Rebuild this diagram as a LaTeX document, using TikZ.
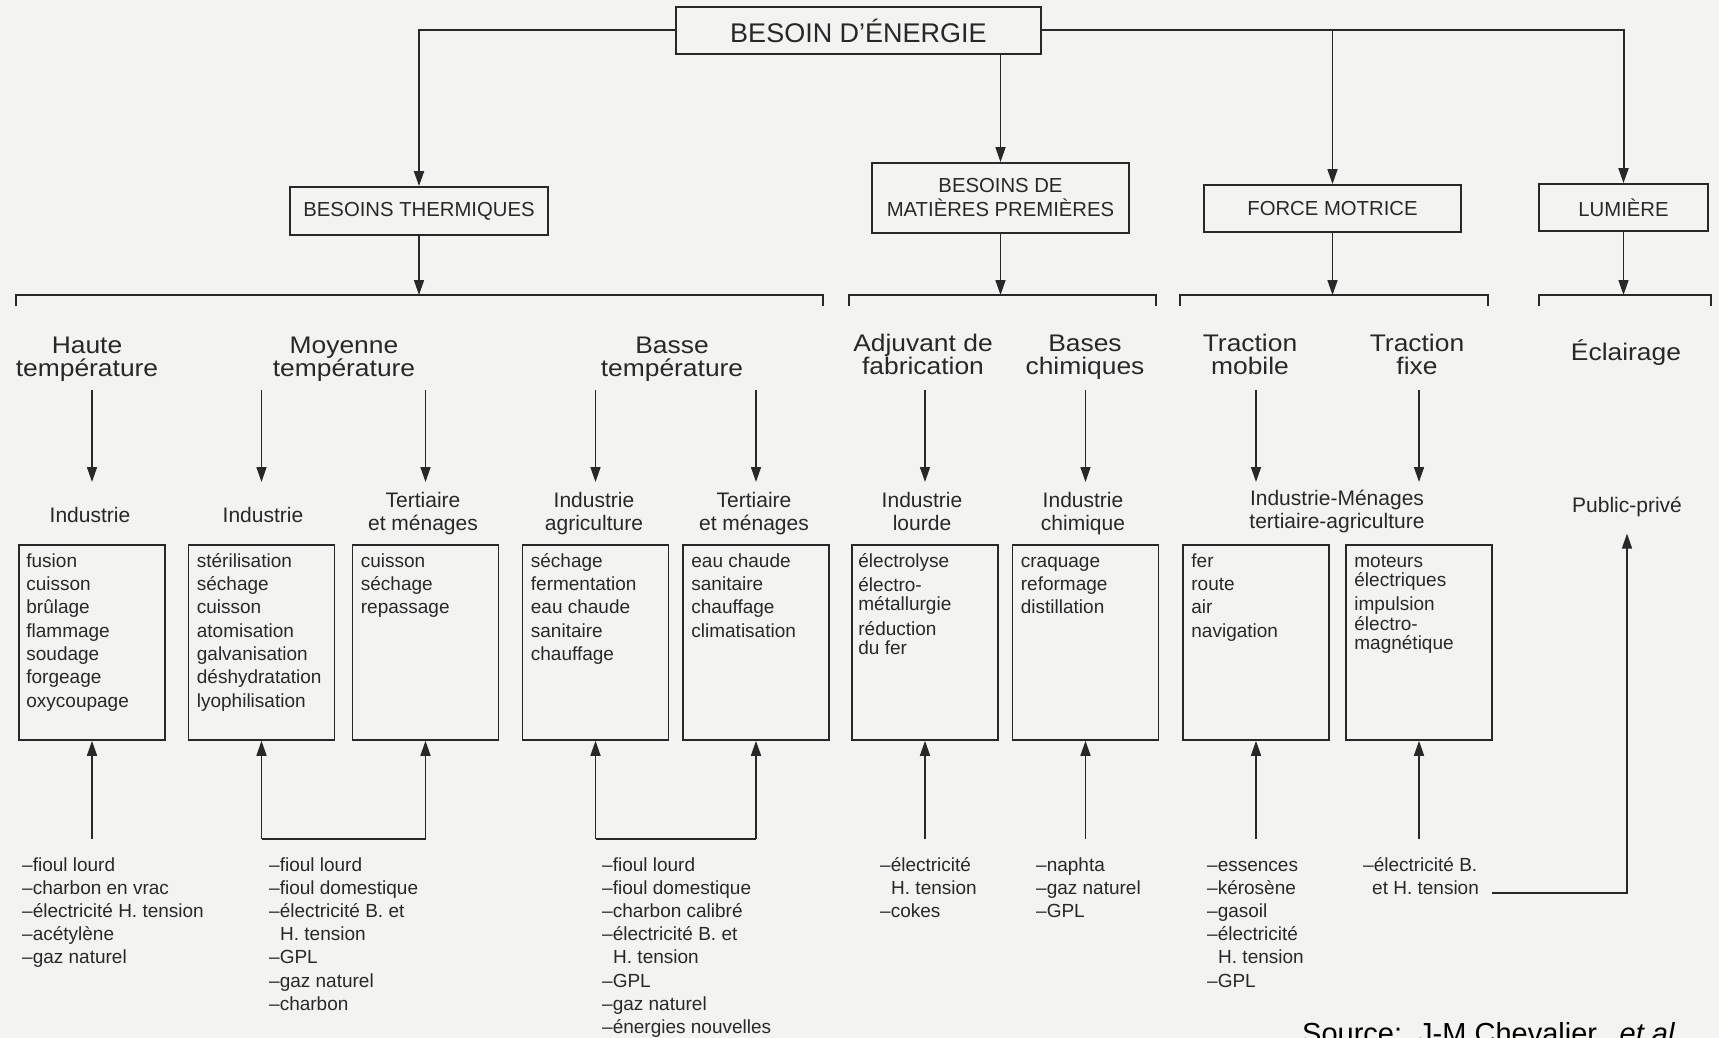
\documentclass[tikz,border=0pt]{standalone}
\usepackage{fontspec}
\setmainfont{Liberation Sans}
\newfontfamily\catfont{Liberation Sans}[FakeStretch=1.1]
\usetikzlibrary{arrows.meta}
\definecolor{ink}{RGB}{40,40,40}
\definecolor{paper}{RGB}{243,243,241}
\newcommand{\Lt}[1]{\begin{tabular}[t]{@{}l@{}}#1\end{tabular}}
\newcommand{\Ct}[1]{\begin{tabular}[t]{@{}c@{}}#1\end{tabular}}
\newcommand{\ind}{\hspace*{11pt}}
\tikzset{
  ln/.style={line width=1.6pt, draw=ink},
  arr/.style={ln, -{Triangle[length=15pt,width=10pt]}},
  topbox/.style={draw=ink, line width=1.8pt, rectangle, inner sep=0pt, text=ink,
    font=\fontsize{27}{30}\selectfont},
  catbox/.style={draw=ink, line width=1.8pt, rectangle, inner sep=0pt, align=center, text=ink,
    font=\fontsize{20.3}{24}\selectfont},
  catlab/.style={anchor=base, inner sep=0pt, text=ink,
    font=\catfont\fontsize{24}{21}\selectfont},
  sublab/.style={anchor=base, inner sep=0pt, text=ink,
    font=\fontsize{21}{23}\selectfont},
  databox/.style={draw=ink, line width=1.6pt, rectangle, minimum width=146pt, minimum height=195pt, inner sep=0pt},
  boxtext/.style={anchor=base west, inner sep=0pt, text=ink,
    font=\fontsize{19}{23.3}\selectfont},
  tightbox/.style={boxtext, font=\fontsize{19}{18}\selectfont},
  srclist/.style={anchor=base west, inner sep=0pt, text=ink,
    font=\fontsize{19}{23.2}\selectfont},
}
\begin{document}
\begin{tikzpicture}[x=1pt,y=-1pt]
\useasboundingbox (0,0) rectangle (1719,1038);
\fill[paper] (0,0) rectangle (1719,1038);

% row coordinates
\coordinate (rA) at (0,390);
\coordinate (rB) at (0,482);
\coordinate (rC) at (0,839);
\coordinate (k) at (0,295);

% top level
\node[topbox, minimum width=365pt, minimum height=47pt] (root) at (858.5,30.5) {BESOIN D’ÉNERGIE};
\node[catbox, minimum width=258pt, minimum height=48pt] (th) at (419,211) {BESOINS THERMIQUES};
\node[catbox, minimum width=257pt, minimum height=70pt] (mp) at (1000.5,198) {BESOINS DE\\MATIÈRES PREMIÈRES};
\node[catbox, minimum width=257pt, minimum height=47pt] (fm) at (1332.5,208.5) {FORCE MOTRICE};
\node[catbox, minimum width=169pt, minimum height=47pt] (lum) at (1623.5,207.5) {LUMIÈRE};

\draw[arr, line width=2pt] (root.west) -| (th.north);
\draw[arr, line width=2pt] (root.east) -| (lum.north);
\draw[arr] (root.east -| fm.north) -- (fm.north);
\draw[arr] (root.south -| mp.north) -- (mp.north);

% brackets
\draw[ln] (16,306) |- (823,295) -- (823,306);
\draw[ln] (849,306) |- (1156,295) -- (1156,306);
\draw[ln] (1180,306) |- (1488,295) -- (1488,306);
\draw[ln] (1539,306) |- (1711,295) -- (1711,306);
\draw[arr] (th.south) -- (th.south |- k);
\draw[arr] (mp.south) -- (mp.south |- k);
\draw[arr] (fm.south) -- (fm.south |- k);
\draw[arr] (lum.south) -- (lum.south |- k);

% category labels
\node[catlab] (c1) at (87,353) {\Ct{Haute\\température}};
\node[catlab] (c2) at (344,353) {\Ct{Moyenne\\température}};
\node[catlab] (c3) at (672,353) {\Ct{Basse\\température}};
\node[catlab] (c4) at (923,351) {\Ct{Adjuvant de\\fabrication}};
\node[catlab] (c5) at (1085,351) {\Ct{Bases\\chimiques}};
\node[catlab] (c6) at (1250,351) {\Ct{Traction\\mobile}};
\node[catlab] (c7) at (1417,351) {\Ct{Traction\\fixe}};
\node[catlab] (c8) at (1626,360) {Éclairage};

% sub labels
\node[sublab] (d1) at (90,522) {Industrie};
\node[sublab] (d2) at (263,522) {Industrie};
\node[sublab] (d3) at (423,507) {\Ct{Tertiaire\\et ménages}};
\node[sublab] (d4) at (594,507) {\Ct{Industrie\\agriculture}};
\node[sublab] (d5) at (754,507) {\Ct{Tertiaire\\et ménages}};
\node[sublab] (d6) at (922,507) {\Ct{Industrie\\lourde}};
\node[sublab] (d7) at (1083,507) {\Ct{Industrie\\chimique}};
\node[sublab] (d8) at (1337,505) {\Ct{Industrie-Ménages\\tertiaire-agriculture}};
\node[sublab] (d9) at (1627,512) {Public-privé};

% boxes
\node[databox] (b1) at (92,642.5) {};
\node[databox] (b2) at (261.5,642.5) {};
\node[databox] (b3) at (425.5,642.5) {};
\node[databox] (b4) at (595.5,642.5) {};
\node[databox] (b5) at (756,642.5) {};
\node[databox] (b6) at (925,642.5) {};
\node[databox] (b7) at (1085.5,642.5) {};
\node[databox] (b8) at (1256,642.5) {};
\node[databox] (b9) at (1419,642.5) {};

\node[boxtext] (t1) at ([shift={(8,23)}]b1.north west) {\Lt{fusion\\cuisson\\brûlage\\flammage\\soudage\\forgeage\\oxycoupage}};
\node[boxtext] (t2) at ([shift={(9,23)}]b2.north west) {\Lt{stérilisation\\séchage\\cuisson\\atomisation\\galvanisation\\déshydratation\\lyophilisation}};
\node[boxtext] (t3) at ([shift={(9,23)}]b3.north west) {\Lt{cuisson\\séchage\\repassage}};
\node[boxtext] (t4) at ([shift={(9,23)}]b4.north west) {\Lt{séchage\\fermentation\\eau chaude\\sanitaire\\chauffage}};
\node[boxtext] (t5) at ([shift={(9,23)}]b5.north west) {\Lt{eau chaude\\sanitaire\\chauffage\\climatisation}};
\node[tightbox] (t6) at ([shift={(7,23)}]b6.north west) {\Lt{électrolyse\\[5pt]électro-\\métallurgie\\[5pt]réduction\\du fer}};
\node[boxtext] (t7) at ([shift={(9,23)}]b7.north west) {\Lt{craquage\\reformage\\distillation}};
\node[boxtext] (t8) at ([shift={(9,23)}]b8.north west) {\Lt{fer\\route\\air\\navigation}};
\node[tightbox] (t9) at ([shift={(9,23)}]b9.north west) {\Lt{moteurs\\électriques\\[5pt]impulsion\\électro-\\magnétique}};

% down arrows
\foreach \b in {b1,b2,b3,b4,b5,b6,b7,b8,b9}
  \draw[arr] (\b.north |- rA) -- (\b.north |- rB);

% up arrows
\draw[arr] (b1.south |- rC) -- (b1.south);
\draw[ln] (b2.south |- rC) -- (b3.south |- rC);
\draw[arr] (b2.south |- rC) -- (b2.south);
\draw[arr] (b3.south |- rC) -- (b3.south);
\draw[ln] (b4.south |- rC) -- (b5.south |- rC);
\draw[arr] (b4.south |- rC) -- (b4.south);
\draw[arr] (b5.south |- rC) -- (b5.south);
\draw[arr] (b6.south |- rC) -- (b6.south);
\draw[arr] (b7.south |- rC) -- (b7.south);
\draw[arr] (b8.south |- rC) -- (b8.south);
\draw[arr] (b9.south |- rC) -- (b9.south);

% source lists
\node[srclist] (s1) at (22,871) {\Lt{–fioul lourd\\–charbon en vrac\\–électricité H. tension\\–acétylène\\–gaz naturel}};
\node[srclist] (s2) at (269,871) {\Lt{–fioul lourd\\–fioul domestique\\–électricité B. et\\\ind H. tension\\–GPL\\–gaz naturel\\–charbon}};
\node[srclist] (s3) at (602,871) {\Lt{–fioul lourd\\–fioul domestique\\–charbon calibré\\–électricité B. et\\\ind H. tension\\–GPL\\–gaz naturel\\–énergies nouvelles}};
\node[srclist] (s4) at (880,871) {\Lt{–électricité\\\ind H. tension\\–cokes}};
\node[srclist] (s5) at (1036,871) {\Lt{–naphta\\–gaz naturel\\–GPL}};
\node[srclist] (s6) at (1207,871) {\Lt{–essences\\–kérosène\\–gasoil\\–électricité\\\ind H. tension\\–GPL}};
\node[srclist] (s7) at (1363,871) {\Lt{–électricité B.\\\hspace*{9pt}et H. tension}};

% lumiere return
\coordinate (lret) at (1492,893);
\draw[arr, shorten >=17pt] (lret) -| (d9.south);

% source
\node[anchor=base west, inner sep=0pt, font=\fontsize{29}{30}\selectfont, text=black] (src) at (1302,1043) {Source:\ \ J-M Chevalier,\ \ \textit{et al}};
\end{tikzpicture}
\end{document}
